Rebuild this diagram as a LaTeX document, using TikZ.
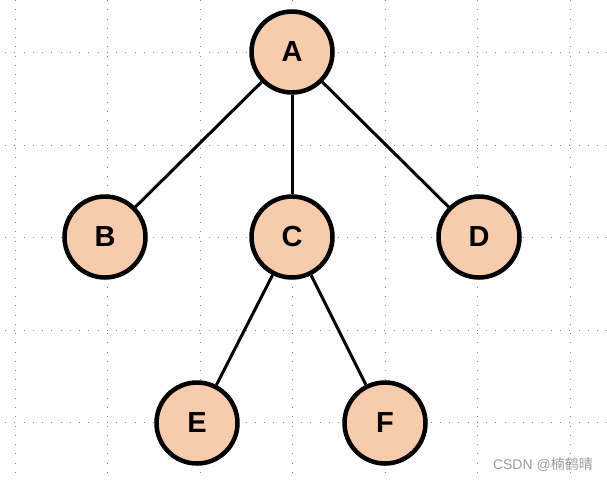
\documentclass[tikz,border=0pt]{standalone}
\usepackage{fontspec}
\setmainfont{Liberation Sans}
\newfontfamily\cjkfont{Noto Sans CJK SC}
\definecolor{peach}{HTML}{F8CBAD}
\definecolor{gridgray}{HTML}{8C8C8C}
\definecolor{wmgray}{HTML}{9A9A9A}
\begin{document}
\begin{tikzpicture}[x=1pt,y=-1pt,
  treenode/.style={circle,draw=black,fill=peach,line width=4.5pt,minimum size=81pt,inner sep=0pt,font=\fontsize{29}{31}\selectfont\bfseries},
  edge/.style={line width=3pt,black},
  gridline/.style={gridgray,line width=0.8pt,dash pattern=on 1pt off 8.25pt}]
\useasboundingbox (0,0) rectangle (607,483);
\foreach \gx in {15,107.5,200,292.5,385,477.5,570}
  \draw[gridline] (\gx,0) -- (\gx,478);
\foreach \gy in {52.5,145,237.5,330,422.5}
  \draw[gridline] (5,\gy) -- (607,\gy);
\node[treenode] (A) at (292,52) {A};
\node[treenode] (B) at (105,237) {B};
\node[treenode] (C) at (292,237) {C};
\node[treenode] (D) at (479,237) {D};
\node[treenode] (E) at (197,423) {E};
\node[treenode] (F) at (385,423) {F};
\draw[edge] (A) -- (B);
\draw[edge] (A) -- (C);
\draw[edge] (A) -- (D);
\draw[edge] (C) -- (E);
\draw[edge] (C) -- (F);
\node[wmgray,anchor=east,inner sep=0pt,font=\fontsize{14}{16}\selectfont] (wm) at (593,465) {CSDN @{\cjkfont 楠鹤晴}};
\end{tikzpicture}
\end{document}
